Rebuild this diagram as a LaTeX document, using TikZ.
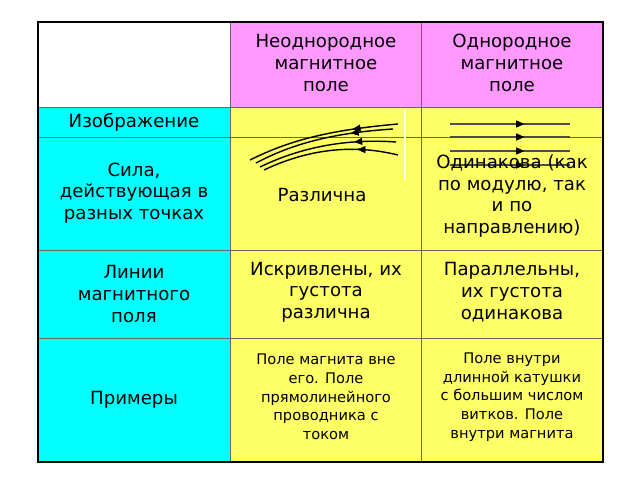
\documentclass[tikz,border=0pt]{standalone}
\usepackage{fontspec}
\setmainfont{DejaVu Sans}
\usetikzlibrary{arrows.meta,decorations.markings}
\definecolor{cyancell}{RGB}{0,255,255}
\definecolor{pinkcell}{RGB}{255,153,255}
\definecolor{yellowcell}{RGB}{255,255,102}
\begin{document}
\begin{tikzpicture}[x=0.03cm,y=-0.03cm,
    cell/.style={align=center, font=\fontsize{15.5pt}{18.5pt}\selectfont},
    small/.style={align=center, font=\fontsize{12.5pt}{16pt}\selectfont},
    fieldline/.style={line width=1.2pt, postaction={decorate},
      decoration={markings, mark=at position 0.3 with {\arrow[line width=0.4pt]{Triangle[length=7pt,width=6pt]}}}},
    gridline/.style={draw=black!60, line width=0.6pt}
]
\useasboundingbox (0,0) rectangle (640,480);

% Cell backgrounds
\fill[white] (38,22) rectangle (230,107);
\fill[cyancell] (38,107) rectangle (230,462);
\fill[pinkcell] (230,22) rectangle (603,107);
\fill[yellowcell] (230,107) rectangle (603,462);

% Grid
\draw[gridline] (230,22) -- (230,462);
\draw[gridline] (421,22) -- (421,462);
\foreach \y in {107,137,250,338}
  \draw[gridline] (38,\y) -- (603,\y);
\draw[black, line width=1pt] (38,22) rectangle (603,462);

% Header
\node[cell] (hdrnon) at (326,63) {Неоднородное\\магнитное\\поле};
\node[cell] (hdruni) at (512,63) {Однородное\\магнитное\\поле};

% First column
\node[cell] (image) at (134,122) {Изображение};
\node[cell] (force) at (134,193) {Сила,\\действующая в\\разных точках};
\node[cell] (lines) at (134,294) {Линии\\магнитного\\поля};
\node[cell] (examples) at (134,400) {Примеры};

% Non-uniform field picture
\draw[fieldline] (398,124) .. controls (330,130) and (290,140) .. (250,160);
\draw[fieldline] (393,129) .. controls (330,133) and (290,145) .. (256,163);
\draw[fieldline] (396,142) .. controls (340,138) and (295,150) .. (260,167);
\draw[fieldline] (398,155) .. controls (345,142) and (300,153) .. (264,170);
\draw[white, line width=1.5pt] (405,110) -- (405,180);

% Uniform field picture
\foreach \y in {124,137,151,165}
  \draw[black!70, line width=1pt, postaction={decorate},
    decoration={markings, mark=at position 0.62 with {\arrow[black]{Triangle[length=7pt,width=6pt]}}}]
    (450,\y) -- (570,\y);

% Cells
\node[cell] (diff) at (322,195) {Различна};
\node[cell] (same) at (512,196) {Одинакова (как\\по модулю, так\\и по\\направлению)};
\node[cell] (curved) at (326,292) {Искривлены, их\\густота\\различна};
\node[cell] (parallel) at (512,292) {Параллельны,\\их густота\\одинакова};
\node[small] (exnon) at (326,397) {Поле магнита вне\\его. Поле\\прямолинейного\\проводника с\\током};
\node[small] (exuni) at (512,397) {Поле внутри\\длинной катушки\\с большим числом\\витков. Поле\\внутри магнита};
\end{tikzpicture}
\end{document}
